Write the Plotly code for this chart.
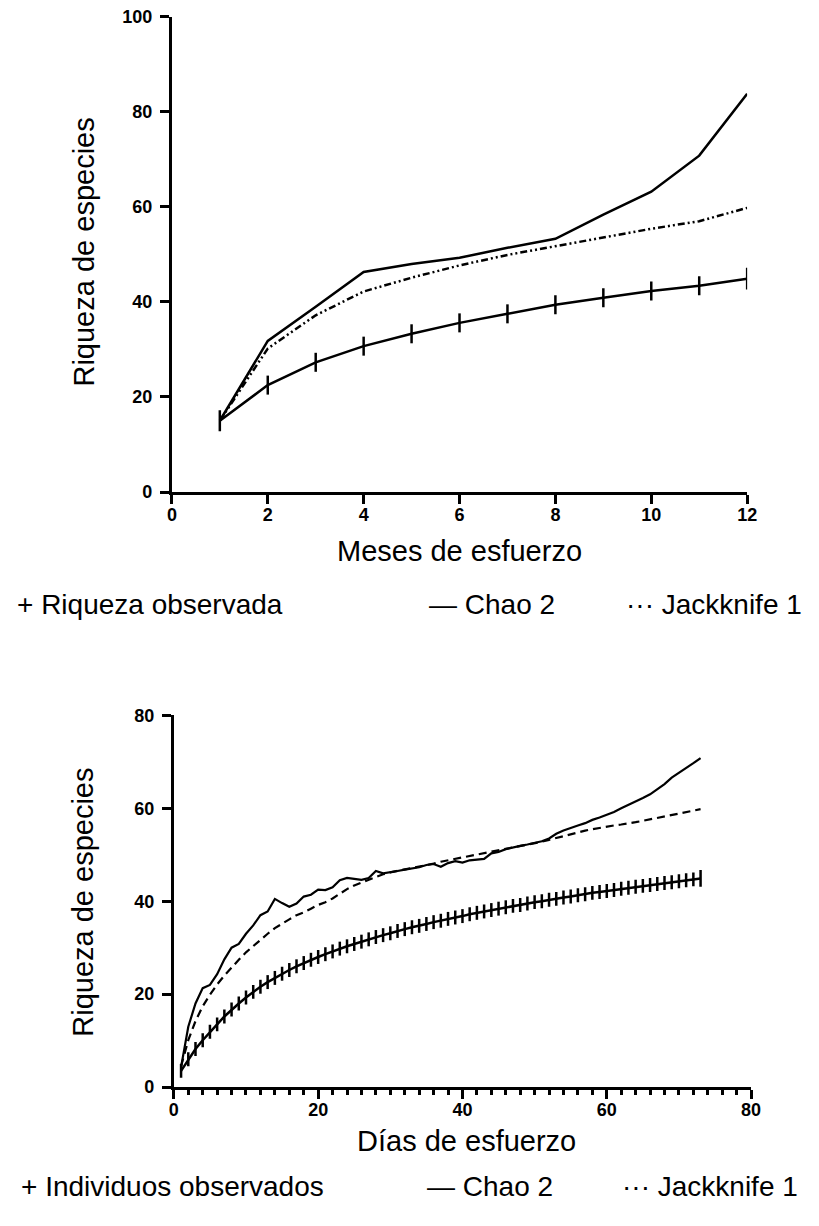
import plotly.graph_objects as go

# ---------------- Data: top chart (months) ----------------
meses = [1, 2, 3, 4, 5, 6, 7, 8, 9, 10, 11, 12]
obs_meses = [15.0, 22.5, 27.3, 30.7, 33.3, 35.6, 37.5, 39.4, 40.9, 42.3, 43.4, 44.9]
obs_meses_err = [2.2, 2.0, 2.0, 2.0, 2.0, 2.0, 2.0, 2.0, 2.0, 2.0, 2.0, 2.3]
chao_meses = [15.0, 31.8, 39.0, 46.3, 48.0, 49.3, 51.4, 53.3, 58.4, 63.2, 70.8, 83.8]
jack_meses = [15.0, 30.2, 37.2, 42.2, 45.1, 47.7, 49.9, 51.7, 53.6, 55.4, 57.0, 59.8]

# ---------------- Data: bottom chart (days) ----------------
dias = list(range(1, 74))
obs_dias = [3.5, 6.0, 8.2, 10.1, 11.9, 13.5, 15.2, 16.7, 18.0, 19.3,
            20.5, 21.6, 22.6, 23.5, 24.4, 25.2, 26.0, 26.7, 27.4, 28.0,
            28.6, 29.2, 29.8, 30.3, 30.8, 31.3, 31.8, 32.3, 32.7, 33.1,
            33.6, 34.0, 34.4, 34.7, 35.1, 35.5, 35.8, 36.2, 36.5, 36.8,
            37.2, 37.5, 37.8, 38.1, 38.4, 38.7, 39.0, 39.2, 39.5, 39.8,
            40.0, 40.3, 40.5, 40.8, 41.0, 41.3, 41.5, 41.8, 42.0, 42.2,
            42.4, 42.7, 42.9, 43.1, 43.3, 43.5, 43.7, 43.9, 44.1, 44.3,
            44.5, 44.7, 44.9]
obs_dias_err = [1.5] * 72 + [1.8]
chao_dias = [4.3, 13.0, 18.0, 21.3, 22.0, 24.3, 27.5, 30.0, 30.8, 33.0,
             34.8, 37.0, 37.8, 40.5, 39.6, 38.8, 39.5, 41.0, 41.4, 42.5,
             42.4, 43.0, 44.5, 45.0, 44.8, 44.6, 45.0, 46.5, 46.0, 46.2,
             46.5, 46.8, 47.0, 47.3, 47.8, 48.0, 47.4, 48.2, 48.6, 48.3,
             48.8, 49.0, 49.1, 50.3, 50.6, 51.2, 51.6, 51.9, 52.2, 52.6,
             52.9, 53.5, 54.5, 55.2, 55.8, 56.3, 56.8, 57.5, 58.0, 58.6,
             59.2, 60.0, 60.7, 61.4, 62.2, 63.0, 64.1, 65.2, 66.6, 67.6,
             68.6, 69.7, 70.8]
jack_dias = [4.5, 10.1, 14.2, 17.4, 19.9, 22.1, 24.0, 25.8, 27.4, 29.0,
             30.4, 31.7, 33.0, 34.2, 35.2, 36.1, 37.0, 37.6, 38.4, 39.2,
             39.8, 40.6, 41.6, 42.6, 43.4, 44.0, 44.6, 45.3, 45.8, 46.2,
             46.5, 46.9, 47.2, 47.5, 47.8, 48.1, 48.5, 48.8, 49.1, 49.4,
             49.7, 50.0, 50.3, 50.6, 50.9, 51.3, 51.6, 51.9, 52.2, 52.5,
             52.8, 53.2, 53.6, 54.0, 54.5, 54.9, 55.2, 55.5, 55.8, 56.1,
             56.3, 56.5, 56.7, 57.0, 57.3, 57.6, 57.9, 58.2, 58.5, 58.9,
             59.2, 59.5, 59.8]

top_xticks = [0, 2, 4, 6, 8, 10, 12]
top_yticks = [0, 20, 40, 60, 80, 100]
bot_xticks = [0, 20, 40, 60, 80]
bot_yticks = [0, 20, 40, 60, 80]

W, H = 819, 1226
FONT = "Liberation Sans, Arial, sans-serif"

def px(x):
    return x / W

def py(y):
    return 1 - y / H

fig = go.Figure()

# Top chart traces
fig.add_trace(go.Scatter(x=meses, y=chao_meses, mode="lines",
                         line=dict(color="black", width=2.5),
                         xaxis="x", yaxis="y", name="Chao 2"))
fig.add_trace(go.Scatter(x=meses, y=jack_meses, mode="lines",
                         line=dict(color="black", width=2.5, dash="7px,3px,2px,3px,2px,3px"),
                         xaxis="x", yaxis="y", name="Jackknife 1"))
fig.add_trace(go.Scatter(x=meses, y=obs_meses, mode="lines",
                         line=dict(color="black", width=2.5),
                         error_y=dict(type="data", array=obs_meses_err, visible=True,
                                      width=0, thickness=2.5, color="black"),
                         xaxis="x", yaxis="y", name="Riqueza observada"))

# Bottom chart traces
fig.add_trace(go.Scatter(x=dias, y=chao_dias, mode="lines",
                         line=dict(color="black", width=2.2),
                         xaxis="x2", yaxis="y2", name="Chao 2"))
fig.add_trace(go.Scatter(x=dias, y=jack_dias, mode="lines",
                         line=dict(color="black", width=2.2, dash="8px,5px"),
                         xaxis="x2", yaxis="y2", name="Jackknife 1"))
fig.add_trace(go.Scatter(x=dias, y=obs_dias, mode="lines",
                         line=dict(color="black", width=2.5),
                         error_y=dict(type="data", array=obs_dias_err, visible=True,
                                      width=0, thickness=2.5, color="black"),
                         xaxis="x2", yaxis="y2", name="Individuos observados"))

tickfont = dict(family=FONT, size=18, color="black", weight="bold")
axis_common = dict(showline=True, linecolor="black", linewidth=3, ticks="outside",
                   ticklen=9, tickwidth=3, tickcolor="black", showgrid=False,
                   zeroline=False, tickfont=tickfont, fixedrange=True)

fig.update_layout(
    width=W, height=H,
    margin=dict(l=0, r=0, t=0, b=0),
    paper_bgcolor="white", plot_bgcolor="white",
    showlegend=False,
    xaxis=dict(domain=[px(170), px(756)], range=[0, 12], tickvals=top_xticks,
               anchor="y", ticklabelstandoff=-5, **axis_common),
    yaxis=dict(domain=[py(490), py(7)], range=[0, 100], tickvals=top_yticks,
               anchor="x", ticklabelstandoff=4, **axis_common),
    xaxis2=dict(domain=[px(172), px(760)], range=[0, 80], tickvals=bot_xticks,
                anchor="y2", ticklabelstandoff=-5,
                minor=dict(dtick=2, ticks="outside", ticklen=5, tickwidth=2.5, tickcolor="black"),
                **axis_common),
    yaxis2=dict(domain=[py(1095), py(717)], range=[0, 80], tickvals=bot_yticks,
                anchor="x2", ticklabelstandoff=4, **axis_common),
)

title_font = dict(family=FONT, size=29, color="black")
ann = []
ann.append(dict(text="Meses de esfuerzo", x=px(463), y=py(550), xref="paper", yref="paper",
                showarrow=False, font=title_font, xanchor="center", yanchor="middle"))
ann.append(dict(text="Riqueza de especies", x=px(80), y=py(246), xref="paper", yref="paper",
                showarrow=False, font=title_font, textangle=-90, xanchor="center", yanchor="middle"))
ann.append(dict(text="Días de esfuerzo", x=px(470), y=py(1150), xref="paper", yref="paper",
                showarrow=False, font=title_font, xanchor="center", yanchor="middle"))
ann.append(dict(text="Riqueza de especies", x=px(80), y=py(907), xref="paper", yref="paper",
                showarrow=False, font=title_font, textangle=-90, xanchor="center", yanchor="middle"))

leg_font = dict(family=FONT, size=28, color="black")
legend_top = [("+ Riqueza observada", 10, "left"), ("— Chao 2", 430, "left"),
              ("··· Jackknife 1", 814, "right")]
legend_bot = [("+ Individuos observados", 14, "left"), ("— Chao 2", 428, "left"),
              ("··· Jackknife 1", 810, "right")]
for txt, x, anc in legend_top:
    ann.append(dict(text=txt, x=px(x), y=py(604), xref="paper", yref="paper",
                    showarrow=False, font=leg_font, xanchor=anc, yanchor="middle"))
for txt, x, anc in legend_bot:
    ann.append(dict(text=txt, x=px(x), y=py(1196), xref="paper", yref="paper",
                    showarrow=False, font=leg_font, xanchor=anc, yanchor="middle"))
fig.update_layout(annotations=ann)

fig.write_html("out.html")
